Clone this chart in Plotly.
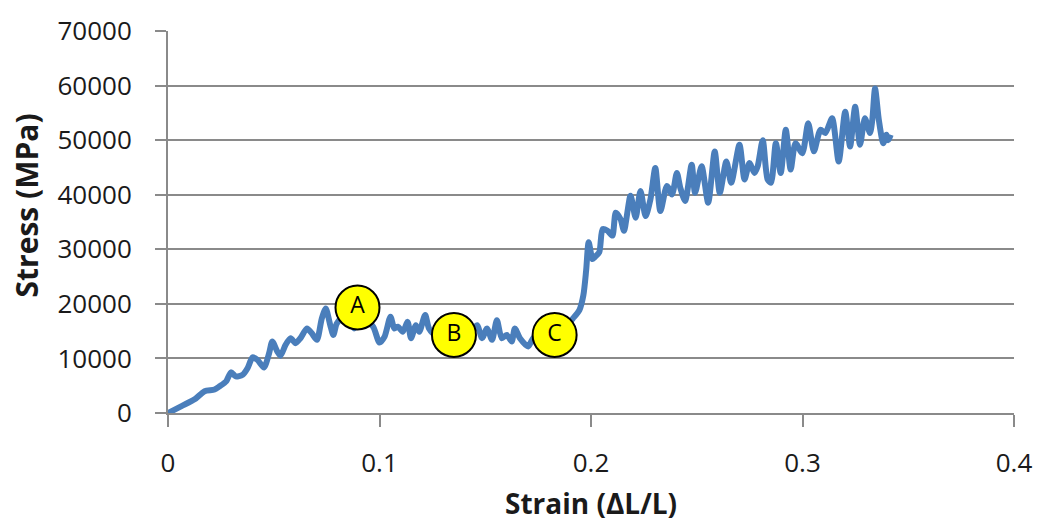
import plotly.graph_objects as go

strain = [0, 0.0064, 0.0126, 0.0173, 0.022, 0.0244, 0.0275, 0.0298, 0.032, 0.0353,
          0.0376, 0.040, 0.0423, 0.0454, 0.0478, 0.0493, 0.0517, 0.0532, 0.0556, 0.058,
          0.0603, 0.0626, 0.0657, 0.068, 0.0704, 0.0727, 0.0746, 0.0767, 0.0782, 0.0798,
          0.084, 0.088, 0.092, 0.097, 0.1000, 0.1024, 0.1052, 0.107, 0.1087, 0.111,
          0.1133, 0.1149, 0.1172, 0.1188, 0.1216, 0.1234, 0.126, 0.13, 0.134, 0.138,
          0.142, 0.1461, 0.1485, 0.1508, 0.1532, 0.1555, 0.1578, 0.1602, 0.1625, 0.164,
          0.1664, 0.1703, 0.1726, 0.176, 0.18, 0.184, 0.188, 0.1914, 0.1945, 0.1964,
          0.1977, 0.1989, 0.2007, 0.2016, 0.2039, 0.2055, 0.2078, 0.2101, 0.2117, 0.214,
          0.2156, 0.2187, 0.2211, 0.2234, 0.2258, 0.2281, 0.2304, 0.2328, 0.2359, 0.2383,
          0.2406, 0.2422, 0.2445, 0.2476, 0.2492, 0.2523, 0.2554, 0.2585, 0.2609, 0.264,
          0.2663, 0.2702, 0.2726, 0.2749, 0.2773, 0.2788, 0.2812, 0.2835, 0.2851, 0.2874,
          0.2897, 0.2921, 0.2944, 0.2967, 0.2999, 0.3027, 0.3054, 0.3085, 0.3108, 0.314,
          0.3171, 0.3202, 0.3225, 0.3249, 0.3272, 0.3295, 0.3319, 0.333, 0.3343, 0.3361,
          0.3382, 0.3397, 0.3405, 0.3417]

stress = [0, 1270, 2500, 4000, 4300, 4900, 5800, 7450, 6700, 7000,
          8200, 10200, 9750, 8350, 10950, 13100, 11250, 10500, 12500, 13700,
          12800, 13700, 15500, 14600, 13400, 17300, 19150, 16100, 14300, 16400,
          18000, 15500, 17500, 15800, 12900, 14000, 17650, 15500, 15800, 14900,
          16700, 13700, 16100, 14900, 17950, 15500, 14500, 16000, 14000, 15500,
          13800, 16100, 13700, 15500, 13400, 17000, 13700, 14300, 13100, 15500,
          13700, 12200, 13700, 14500, 13500, 15000, 15800, 17300, 18850, 21600,
          26100, 31300, 28200, 28500, 29450, 33700, 33400, 32500, 36700, 35500,
          33400, 39800, 35800, 40700, 36100, 39150, 44900, 37000, 41600, 40050,
          44000, 41300, 38850, 45500, 40350, 45200, 38550, 47900, 40350, 46100,
          42200, 49150, 42800, 45800, 44000, 45200, 50000, 42800, 42200, 49450,
          44000, 51900, 44600, 49450, 47600, 53100, 47950, 51900, 51300, 54000,
          46100, 55200, 48850, 56100, 49150, 54000, 51300, 53700, 59450, 53700,
          49450, 51000, 50000, 51000]

point_labels = ["A", "B", "C"]
label_strain = [0.0896, 0.1352, 0.1828]
label_stress = [19330, 14300, 14300]

x_ticks = [0, 0.1, 0.2, 0.3, 0.4]
x_ticktext = ["0", "0.1", "0.2", "0.3", "0.4"]
y_ticks = [0, 10000, 20000, 30000, 40000, 50000, 60000, 70000]

GRAY = "#8a8a8a"
FONT = "Open Sans"

fig = go.Figure()
fig.add_trace(go.Scatter(
    x=strain, y=stress, mode="lines",
    line=dict(color="#4A7EBB", width=6, shape="spline", smoothing=0.7),
    showlegend=False, hoverinfo="skip",
))
fig.add_trace(go.Scatter(
    x=label_strain, y=label_stress, mode="markers+text",
    text=point_labels, textposition="middle center",
    textfont=dict(family=FONT, size=23, color="black"),
    marker=dict(size=44, color="#FFFF00", line=dict(color="black", width=2)),
    showlegend=False, cliponaxis=False, hoverinfo="skip",
))

fig.update_layout(
    width=1044, height=523,
    margin=dict(l=168, r=22, t=27, b=110),
    paper_bgcolor="white", plot_bgcolor="white",
    hovermode=False,
    font=dict(family=FONT, size=26, color="#1a1a1a"),
    xaxis=dict(
        range=[0, 0.4], tickvals=x_ticks, ticktext=x_ticktext,
        showgrid=False, zeroline=False,
        showline=True, linecolor=GRAY, linewidth=2,
        ticks="outside", ticklen=12, tickwidth=2, tickcolor=GRAY,
        ticklabelstandoff=14,
        tickfont=dict(family=FONT, size=26, color="#1a1a1a"),
    ),
    yaxis=dict(
        range=[0, 70000], tickvals=y_ticks, tickformat="d",
        showgrid=True, gridcolor=GRAY, gridwidth=2, zeroline=False,
        showline=True, linecolor=GRAY, linewidth=2,
        ticks="outside", ticklen=11, tickwidth=2, tickcolor=GRAY,
        ticklabelstandoff=18,
        tickfont=dict(family=FONT, size=26, color="#1a1a1a"),
    ),
    annotations=[
        dict(text="<b>Strain (ΔL/L)</b>", xref="paper", yref="paper",
             x=0.5, y=-0.2358, xanchor="center", yanchor="middle", showarrow=False,
             font=dict(family=FONT, size=28, color="#1a1a1a")),
        dict(text="<b>Stress (MPa)</b>", xref="paper", yref="paper",
             x=-0.1675, y=0.544, xanchor="center", yanchor="middle", showarrow=False,
             textangle=-90, font=dict(family=FONT, size=30, color="#1a1a1a")),
    ],
)

fig.write_html(
    "out.html",
    config={"displayModeBar": False},
    post_script="document.body.style.margin='0';document.body.style.overflow='hidden';",
)
